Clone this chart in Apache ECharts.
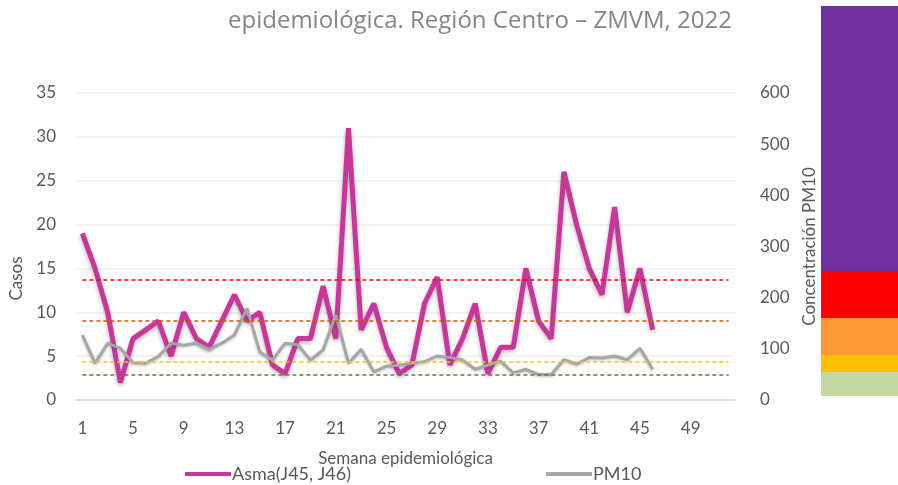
<!DOCTYPE html>
<html>
<head>
<meta charset="utf-8">
<script src="https://cdn.jsdelivr.net/npm/echarts@6/dist/echarts.min.js"></script>
<style>
html,body{margin:0;padding:0;background:#fff}
#main{width:898px;height:485px}
</style>
</head>
<body>
<div id="main"></div>
<script>
// semanas epidemiológicas
const semanas = ['1','2','3','4','5','6','7','8','9','10','11','12','13','14','15','16','17','18','19','20',
  '21','22','23','24','25','26','27','28','29','30','31','32','33','34','35','36','37','38','39','40',
  '41','42','43','44','45','46','47','48','49','50','51','52'];
// casos de asma por semana
const asma = [19,15,10,2,7,8,9,5,10,7, 6,9,12,9,10,4,3,7,7,13, 7,31,8,11,6,3,4,11,14,4,
  7,11,3,6,6,15,9,7,26,20, 15,12,22,10,15,8];
// concentración PM10 promedio semanal
const pm10 = [127,72,111,101,73,72,85,111,107,111, 99,111,127,179,94,78,111,108,78,98,
  166,72,99,55,66,68,72,75,86,83, 78,60,68,76,53,60,50,50,79,70, 83,82,86,79,101,60];
// límites de calidad del aire PM10 (líneas punteadas)
const umbrales = [50, 75, 155, 235];
const umbralColores = ['#548235', '#FFC000', '#C55A11', '#FF0000'];
// barra de colores a la derecha (alturas de cada franja)
const franjas = [24, 17, 37, 47, 265];
const franjaColores = ['#C4D79E', '#FFC000', '#FF9A33', '#FF0000', '#7030A0'];

const fuente = 'Lato';
const gris = '#595959';

let chart = echarts.init(document.getElementById('main'));

let series = [
  {
    name: 'Asma(J45, J46)',
    type: 'line',
    data: asma,
    yAxisIndex: 0,
    symbol: 'none',
    lineStyle: { color: '#C9359A', width: 5, shadowColor: 'rgba(0,0,0,0.3)', shadowBlur: 4, shadowOffsetY: 2 },
    itemStyle: { color: '#C9359A' }
  },
  {
    name: 'PM10',
    type: 'line',
    data: pm10,
    yAxisIndex: 1,
    symbol: 'none',
    lineStyle: { color: '#A6A6A6', width: 3, shadowColor: 'rgba(0,0,0,0.25)', shadowBlur: 3, shadowOffsetY: 1 },
    itemStyle: { color: '#A6A6A6' },
    markLine: {
      silent: true,
      symbol: 'none',
      label: { show: false },
      data: umbrales.map((u, i) => [
        { xAxis: '1', yAxis: u, lineStyle: { color: umbralColores[i], type: [4, 3], width: 1.5 } },
        { xAxis: '52', yAxis: u }
      ])
    }
  }
];

franjas.forEach((h, i) => {
  series.push({
    type: 'bar',
    xAxisIndex: 1,
    yAxisIndex: 2,
    stack: 'franja',
    barWidth: '100%',
    silent: true,
    data: [h],
    itemStyle: { color: franjaColores[i] }
  });
});

let option = {
  animation: false,
  backgroundColor: '#ffffff',
  title: {
    text: 'epidemiológica. Región Centro – ZMVM, 2022',
    left: 223,
    top: 4,
    textStyle: { fontFamily: 'Open Sans', fontSize: 24, fontWeight: 'normal', color: '#858585' }
  },
  legend: {
    data: ['Asma(J45, J46)', 'PM10'],
    left: 180,
    top: 460,
    itemWidth: 46,
    itemHeight: 4,
    itemGap: 195,
    icon: 'rect',
    textStyle: { fontFamily: fuente, fontSize: 18, color: gris, padding: [0, 0, 0, -4] }
  },
  grid: [
    { left: 76, right: 163, top: 93, bottom: 85 },
    { left: 821, right: 0, top: 6, bottom: 89 }
  ],
  xAxis: [
    {
      type: 'category',
      data: semanas,
      gridIndex: 0,
      name: 'Semana epidemiológica',
      nameLocation: 'middle',
      nameGap: 50,
      nameTextStyle: { fontFamily: fuente, fontSize: 17, color: gris },
      axisLine: { lineStyle: { color: '#D9D9D9', width: 1.5 } },
      axisTick: { show: false },
      axisLabel: { interval: 3, fontFamily: fuente, fontSize: 17, color: gris, margin: 20 }
    },
    {
      type: 'category',
      data: [''],
      gridIndex: 1,
      show: false
    }
  ],
  yAxis: [
    {
      type: 'value',
      min: 0, max: 35, interval: 5,
      name: 'Casos',
      nameLocation: 'middle',
      nameGap: 48,
      nameTextStyle: { fontFamily: fuente, fontSize: 17, color: gris, padding: [0, 0, 0, -64] },
      axisLine: { show: false },
      axisTick: { show: false },
      axisLabel: { fontFamily: fuente, fontSize: 17, color: gris, margin: 20 },
      splitLine: { lineStyle: { color: '#EDEDED', width: 1.5 } }
    },
    {
      type: 'value',
      min: 0, max: 600, interval: 100,
      name: 'Concentración PM10',
      nameLocation: 'middle',
      nameGap: 66,
      nameTextStyle: { fontFamily: fuente, fontSize: 17, color: gris },
      axisLine: { show: false },
      axisTick: { show: false },
      axisLabel: { fontFamily: fuente, fontSize: 17, color: gris, margin: 25 },
      splitLine: { show: false }
    },
    {
      type: 'value',
      gridIndex: 1,
      min: 0, max: 390,
      show: false
    }
  ],
  series: series
};

chart.setOption(option);
</script>
</body>
</html>
